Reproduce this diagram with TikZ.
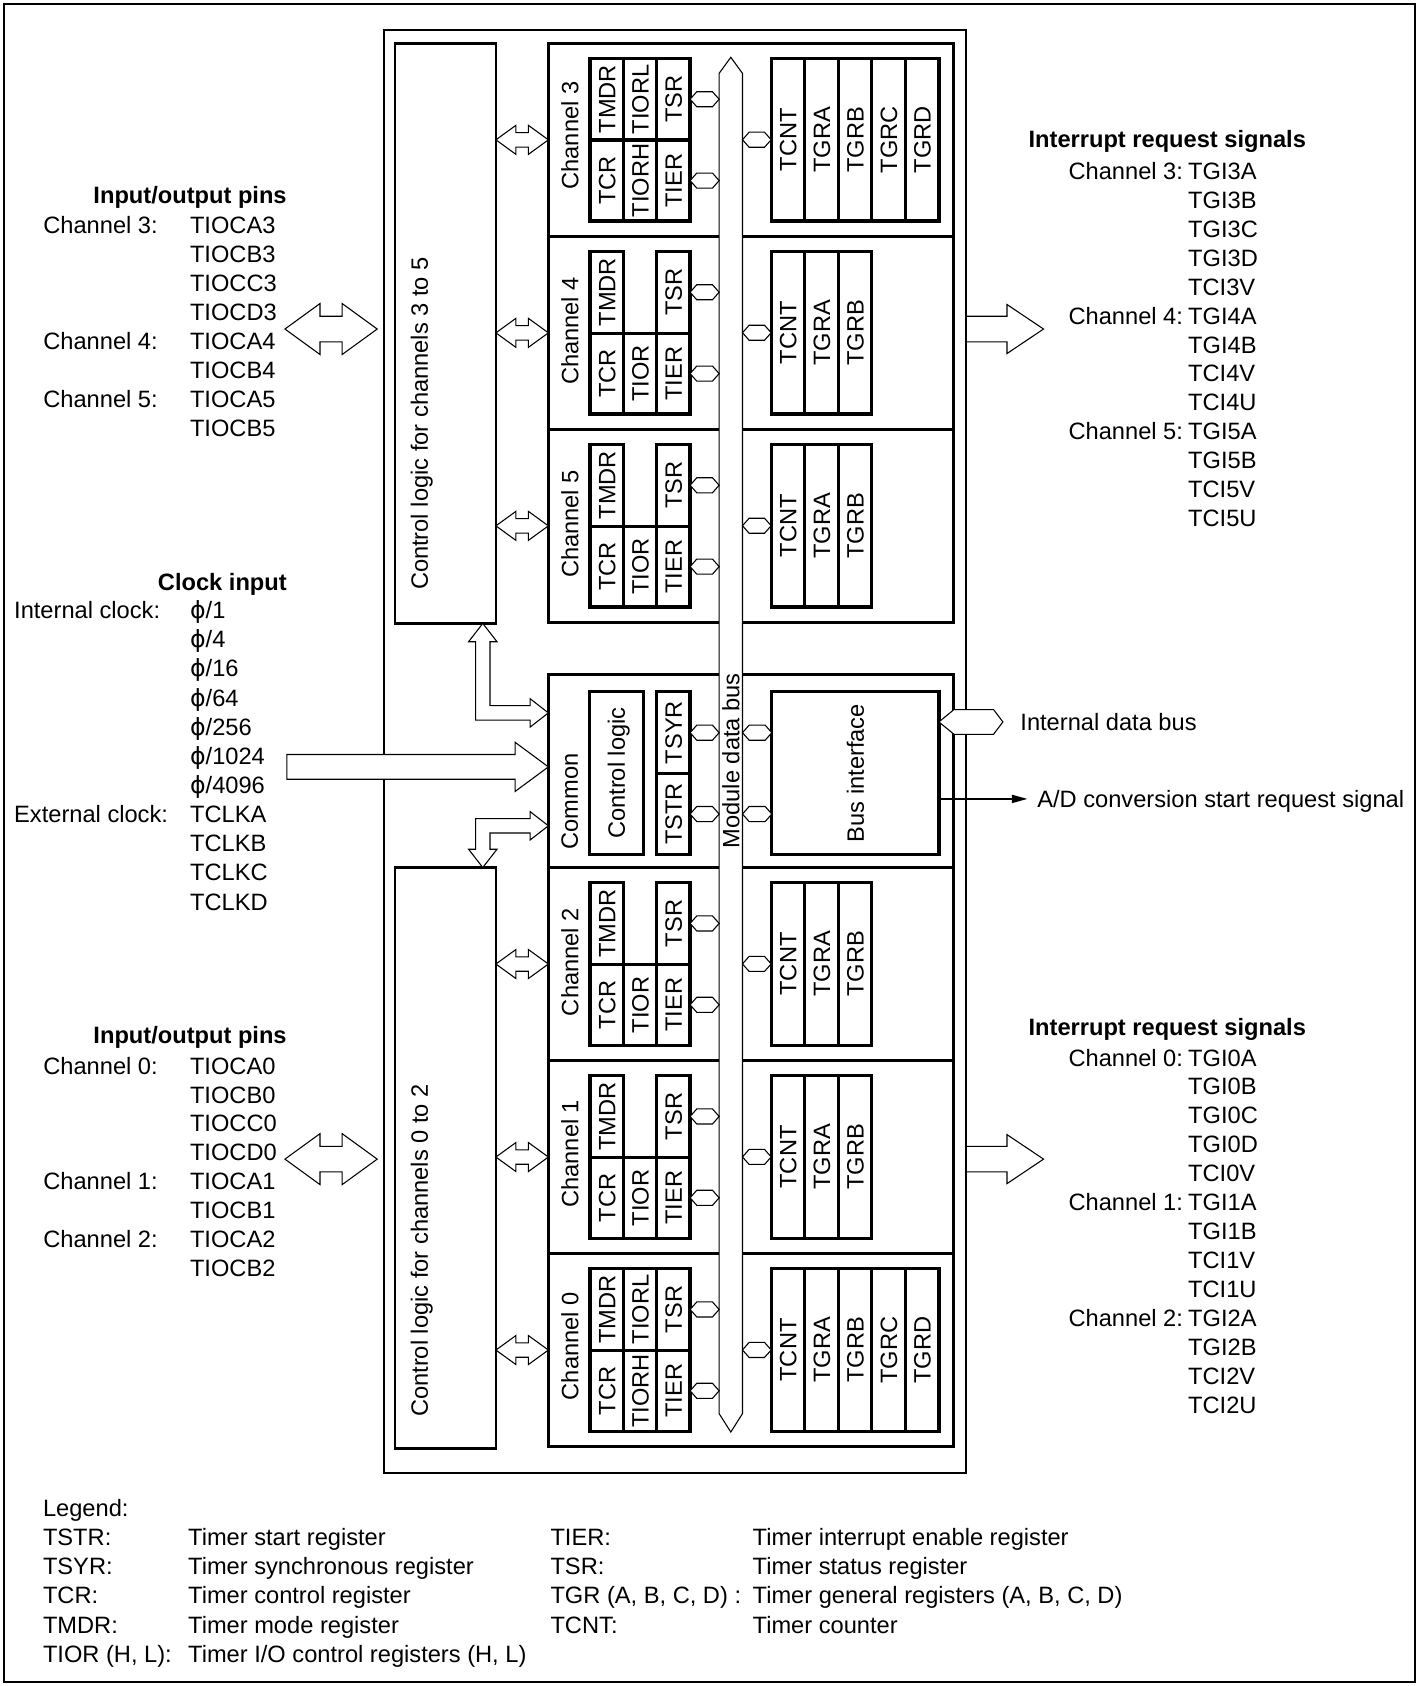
\documentclass[tikz,border=0pt]{standalone}
\usepackage{fontspec}
\setmainfont{Liberation Sans}
\newfontfamily\dvs{DejaVu Sans}
\usetikzlibrary{calc,arrows.meta}
\newcommand{\fy}{{\dvs\symbol{"03D5}}}
% generic box node: name, style, x1, y1, x2, y2
\newcommand{\bx}[6]{\node[#2,minimum width={((#5)-(#3))*0.5pt},minimum height={((#6)-(#4))*0.5pt}] (#1) at ({((#3)+(#5))/2},{((#4)+(#6))/2}) {};}
% register cell: name, x1, y1, x2, y2, text (rotated)
\newcommand{\cell}[6]{\node[cellb,minimum width={((#5)-(#3))*0.5pt},minimum height={((#4)-(#2))*0.5pt}] (#1) at ({((#2)+(#4))/2},{((#3)+(#5))/2}) {#6};}
\newcommand{\rightregs}[3]{\foreach \rn [count=\k from 0] in {#3}{\cell{#1-\rn}{717.2+31.2*\k}{#2+14}{748.4+31.2*\k}{#2+165.3}{\rn}}}
\newcommand{\regsfull}[2]{%
 \cell{#1-TMDR}{548.8}{#2+14}{579.8}{#2+90}{TMDR}%
 \cell{#1-TIORL}{579.8}{#2+14}{610.8}{#2+90}{TIORL}%
 \cell{#1-TSR}{610.8}{#2+14}{641.8}{#2+90}{TSR}%
 \cell{#1-TCR}{548.8}{#2+90}{579.8}{#2+165.3}{TCR}%
 \cell{#1-TIORH}{579.8}{#2+90}{610.8}{#2+165.3}{TIORH}%
 \cell{#1-TIER}{610.8}{#2+90}{641.8}{#2+165.3}{TIER}%
 \rightregs{#1}{#2}{TCNT,TGRA,TGRB,TGRC,TGRD}}
\newcommand{\regsthree}[2]{%
 \cell{#1-TMDR}{548.8}{#2+14}{579.8}{#2+90}{TMDR}%
 \cell{#1-TSR}{610.8}{#2+14}{641.8}{#2+90}{TSR}%
 \cell{#1-TCR}{548.8}{#2+90}{579.8}{#2+165.3}{TCR}%
 \cell{#1-TIOR}{579.8}{#2+90}{610.8}{#2+165.3}{TIOR}%
 \cell{#1-TIER}{610.8}{#2+90}{641.8}{#2+165.3}{TIER}%
 \rightregs{#1}{#2}{TCNT,TGRA,TGRB}}
% hollow double arrow: left point, right point, shaft half, head half, head length
\newcommand{\hdbl}[5]{\draw[thinl] let \p1=(#1), \p2=(#2) in
 (\x1,\y1) -- (\x1+#5,\y1+#4) -- (\x1+#5,\y1+#3) -- (\x2-#5,\y1+#3) -- (\x2-#5,\y1+#4) -- (\x2,\y1)
 -- (\x2-#5,\y1-#4) -- (\x2-#5,\y1-#3) -- (\x1+#5,\y1-#3) -- (\x1+#5,\y1-#4) -- cycle;}
% hollow single arrow: tail, tip, shaft half, head half, head length
\newcommand{\harr}[5]{\draw[thinl] let \p1=(#1), \p2=(#2) in
 (\x1,\y1+#3) -- (\x2-#5,\y1+#3) -- (\x2-#5,\y1+#4) -- (\x2,\y1) -- (\x2-#5,\y1-#4) -- (\x2-#5,\y1-#3) -- (\x1,\y1-#3) -- cycle;}
% hexagon connector: left, right, half height, left bevel, right bevel
\newcommand{\hexc}[5]{\draw[thinl] let \p1=(#1), \p2=(#2) in
 (\x1,\y1) -- (\x1+#4,\y1+#3) -- (\x2-#5,\y1+#3) -- (\x2,\y1) -- (\x2-#5,\y1-#3) -- (\x1+#4,\y1-#3) -- cycle;}
\newcommand{\conns}[1]{%
 \hexc{#1-TSR.south}{#1-TSR.south -| busL}{3.5pt}{3.1pt}{3.1pt}%
 \hexc{#1-TIER.south}{#1-TIER.south -| busL}{3.5pt}{3.1pt}{3.1pt}%
 \hexc{busR |- #1-TCNT.north}{#1-TCNT.north}{3.5pt}{3.1pt}{3.1pt}}
\begin{document}
\begin{tikzpicture}[x=0.5pt,y=-0.5pt,
 every node/.style={inner sep=0pt,outer sep=0pt,font=\fontsize{11}{13}\selectfont,text height=7.9pt,text depth=0pt},
 frm/.style={draw,line width=0.9pt},
 mainb/.style={draw,line width=1pt},
 boxb/.style={draw,line width=1.3pt},
 cellb/.style={draw,line width=1.5pt,rotate=90},
 thinl/.style={line width=0.5pt,fill=white},
 rot/.style={rotate=90},
 ttl/.style={font=\fontsize{11}{13}\selectfont\bfseries},
 lbl/.style={anchor=west},
 adl/.style={line width=1.2pt,-{Triangle[length=7.5pt,width=3.6pt]}},
]
\useasboundingbox (0,0) rectangle (1320,1568);
% frames and boxes
\bx{frame}{frm}{4}{4}{1316}{1564}
\bx{main}{mainb}{357}{27.9}{898.6}{1370}
\bx{ctl35}{boxb}{367.3}{40.3}{461.2}{579.8}
\bx{ctl02}{boxb}{367.3}{806.8}{461.2}{1347}
\node[rot] (ctl35t) at (390,394) {Control logic for channels 3 to 5};
\node[rot] (ctl02t) at (390,1163) {Control logic for channels 0 to 2};
\bx{ch3}{boxb}{510}{40.3}{887}{219.8}
\bx{ch4}{boxb}{510}{219.8}{887}{399.3}
\bx{ch5}{boxb}{510}{399.3}{887}{578.8}
\bx{com}{boxb}{510}{627.3}{887}{806.8}
\bx{ch2}{boxb}{510}{806.8}{887}{986.3}
\bx{ch1}{boxb}{510}{986.3}{887}{1165.8}
\bx{ch0}{boxb}{510}{1165.8}{887}{1345.3}
\node[rot] (ch3l) at (530,126) {Channel 3};
\node[rot] (ch4l) at (530,307.8) {Channel 4};
\node[rot] (ch5l) at (530,487.3) {Channel 5};
\node[rot] (coml) at (529.6,745.5) {Common};
\node[rot] (ch2l) at (530,894.8) {Channel 2};
\node[rot] (ch1l) at (530,1073) {Channel 1};
\node[rot] (ch0l) at (530,1252) {Channel 0};
% registers
\regsfull{ch3}{40.3}
\regsthree{ch4}{219.8}
\regsthree{ch5}{399.3}
\regsthree{ch2}{806.8}
\regsthree{ch1}{986.3}
\regsfull{ch0}{1165.8}
\cell{comctl}{548.2}{643.4}{598.4}{794.7}{Control logic}
\cell{TSYR}{610.8}{643.4}{641.8}{719.4}{TSYR}
\cell{TSTR}{610.8}{719.4}{641.8}{794.7}{TSTR}
\cell{bi}{717.8}{643.4}{873.2}{794.7}{Bus interface}
% module data bus
\coordinate (busL) at (668.8,0);
\coordinate (busR) at (690.5,0);
\draw[thinl] (668.8,68.2) -- (679.65,53.3) -- (690.5,68.2) -- (690.5,1314.7) -- (679.65,1331.8) -- (668.8,1314.7) -- cycle;
\node[rot] (mdb) at (679.65,707.5) {Module data bus};
% connectors to bus
\conns{ch3}\conns{ch4}\conns{ch5}\conns{ch2}\conns{ch1}\conns{ch0}
\hexc{TSYR.south}{TSYR.south -| busL}{3.5pt}{3.1pt}{3.1pt}
\hexc{TSTR.south}{TSTR.south -| busL}{3.5pt}{3.1pt}{3.1pt}
\hexc{busR |- TSYR.south}{bi.north |- TSYR.south}{3.5pt}{3.1pt}{3.1pt}
\hexc{busR |- TSTR.south}{bi.north |- TSTR.south}{3.5pt}{3.1pt}{3.1pt}
% internal data bus and A/D
\coordinate (ibus) at (932.7,671.4);
\hexc{bi.south |- ibus}{ibus}{5.75pt}{7pt}{4.35pt}
\coordinate (adE) at (956,743);
\draw[adl] (bi.south |- adE) -- (adE);
\node[lbl] (ibt) at (949,671.4) {Internal data bus};
\node[lbl] (adt) at (964.7,743) {A/D conversion start request signal};
% control <-> channel arrows
\foreach \c in {ch3,ch4,ch5}{\hdbl{ctl35.east |- \c.west}{\c.west}{3.35pt}{6.75pt}{9.3pt}}
\foreach \c in {ch2,ch1,ch0}{\hdbl{ctl02.east |- \c.west}{\c.west}{3.35pt}{6.75pt}{9.3pt}}
% L-shaped arrows to common
\coordinate (Lx) at (449,0);
\coordinate (Ly1) at (0,663);
\coordinate (Ly2) at (0,768);
\draw[thinl] let \p1=(Lx |- ctl35.south), \p2=(com.west |- Ly1) in
 (\x1,\y1) -- (\x1+6.6pt,\y1-8.5pt) -- (\x1+3.35pt,\y1-8.5pt) -- (\x1+3.35pt,\y2+3.35pt) -- (\x2-8.5pt,\y2+3.35pt) -- (\x2-8.5pt,\y2+6.6pt) -- (\x2,\y2) -- (\x2-8.5pt,\y2-6.6pt) -- (\x2-8.5pt,\y2-3.35pt) -- (\x1-3.35pt,\y2-3.35pt) -- (\x1-3.35pt,\y1-8.5pt) -- (\x1-6.6pt,\y1-8.5pt) -- cycle;
\draw[thinl] let \p1=(Lx |- ctl02.north), \p2=(com.west |- Ly2) in
 (\x2,\y2) -- (\x2-8.5pt,\y2+6.6pt) -- (\x2-8.5pt,\y2+3.35pt) -- (\x1-3.35pt,\y2+3.35pt) -- (\x1-3.35pt,\y1+8.5pt) -- (\x1-6.6pt,\y1+8.5pt) -- (\x1,\y1) -- (\x1+6.6pt,\y1+8.5pt) -- (\x1+3.35pt,\y1+8.5pt) -- (\x1+3.35pt,\y2-3.35pt) -- (\x2-8.5pt,\y2-3.35pt) -- (\x2-8.5pt,\y2-6.6pt) -- cycle;
% clock arrow
\coordinate (clk) at (266.8,713.2);
\harr{clk}{clk -| com.west}{5.75pt}{11.45pt}{15.5pt}
% pin arrows
\coordinate (pa1) at (265,306); \coordinate (pb1) at (350.8,306);
\coordinate (pa2) at (265,1078); \coordinate (pb2) at (350.8,1078);
\hdbl{pa1}{pb1}{5.95pt}{11.85pt}{16.3pt}
\hdbl{pa2}{pb2}{5.95pt}{11.85pt}{16.3pt}
% interrupt arrows
\coordinate (ir1) at (970.5,306); \coordinate (ir2) at (970.5,1078);
\harr{ir1 -| main.east}{ir1}{5.95pt}{11.4pt}{17pt}
\harr{ir2 -| main.east}{ir2}{5.95pt}{11.4pt}{17pt}
% left pin texts
\node[ttl] (iop1) at (176.75,181.4) {Input/output pins};
\foreach \t [count=\i] in {TIOCA3,TIOCB3,TIOCC3,TIOCD3,TIOCA4,TIOCB4,TIOCA5,TIOCB5}
 {\node[lbl] (pinT\i) at (176.7,{209.3+26.9*(\i-1)}) {\t};}
\node[lbl] (pchT3) at (40.3,209.3) {Channel 3:};
\node[lbl] (pchT4) at (40.3,{209.3+26.9*4}) {Channel 4:};
\node[lbl] (pchT5) at (40.3,{209.3+26.9*6}) {Channel 5:};
\node[ttl] (iop2) at (176.75,963) {Input/output pins};
\foreach \t [count=\i] in {TIOCA0,TIOCB0,TIOCC0,TIOCD0,TIOCA1,TIOCB1,TIOCA2,TIOCB2}
 {\node[lbl] (pinB\i) at (176.7,{991+26.9*(\i-1)}) {\t};}
\node[lbl] (pchB0) at (40.3,991) {Channel 0:};
\node[lbl] (pchB1) at (40.3,{991+26.9*4}) {Channel 1:};
\node[lbl] (pchB2) at (40.3,{991+26.9*6}) {Channel 2:};
% clock texts
\node[ttl] (clkt) at (206.8,541) {Clock input};
\node[lbl] (intc) at (13.2,567.4) {Internal clock:};
\node[lbl] (extc) at (13.2,{567.4+27.1*7}) {External clock:};
\foreach \t [count=\i] in {1,4,16,64,256,1024,4096}
 {\node[lbl] (phi\i) at (176.8,{567.4+27.1*(\i-1)}) {\fy/\t};}
\foreach \t [count=\i from 8] in {TCLKA,TCLKB,TCLKC,TCLKD}
 {\node[lbl] (tclk\i) at (176.8,{567.4+27.1*(\i-1)}) {\t};}
% interrupt texts
\node[ttl,anchor=west] (irqT) at (956.6,129.6) {Interrupt request signals};
\foreach \t [count=\i] in {TGI3A,TGI3B,TGI3C,TGI3D,TCI3V,TGI4A,TGI4B,TCI4V,TCI4U,TGI5A,TGI5B,TCI5V,TCI5U}
 {\node[lbl] (irT\i) at (1105,{159+26.9*(\i-1)}) {\t};}
\node[lbl] (ichT3) at (993.8,159) {Channel 3:};
\node[lbl] (ichT4) at (993.8,{159+26.9*5}) {Channel 4:};
\node[lbl] (ichT5) at (993.8,{159+26.9*9}) {Channel 5:};
\node[ttl,anchor=west] (irqB) at (956.6,955.5) {Interrupt request signals};
\foreach \t [count=\i] in {TGI0A,TGI0B,TGI0C,TGI0D,TCI0V,TGI1A,TGI1B,TCI1V,TCI1U,TGI2A,TGI2B,TCI2V,TCI2U}
 {\node[lbl] (irB\i) at (1105,{983.5+26.9*(\i-1)}) {\t};}
\node[lbl] (ichB0) at (993.8,983.5) {Channel 0:};
\node[lbl] (ichB1) at (993.8,{983.5+26.9*5}) {Channel 1:};
\node[lbl] (ichB2) at (993.8,{983.5+26.9*9}) {Channel 2:};
% legend
\node[lbl] (lg0) at (40,1402) {Legend:};
\node[lbl] (lg1a) at (40,1429.8) {TSTR:};
\node[lbl] (lg1b) at (175,1429.8) {Timer start register};
\node[lbl] (lg1c) at (512,1429.8) {TIER:};
\node[lbl] (lg1d) at (700,1429.8) {Timer interrupt enable register};
\node[lbl] (lg2a) at (40,1456.8) {TSYR:};
\node[lbl] (lg2b) at (175,1456.8) {Timer synchronous register};
\node[lbl] (lg2c) at (512,1456.8) {TSR:};
\node[lbl] (lg2d) at (700,1456.8) {Timer status register};
\node[lbl] (lg3a) at (40,1483.8) {TCR:};
\node[lbl] (lg3b) at (175,1483.8) {Timer control register};
\node[lbl] (lg3c) at (512,1483.8) {TGR (A, B, C, D) :};
\node[lbl] (lg3d) at (700,1483.8) {Timer general registers (A, B, C, D)};
\node[lbl] (lg4a) at (40,1510.8) {TMDR:};
\node[lbl] (lg4b) at (175,1510.8) {Timer mode register};
\node[lbl] (lg4c) at (512,1510.8) {TCNT:};
\node[lbl] (lg4d) at (700,1510.8) {Timer counter};
\node[lbl] (lg5a) at (40,1537.8) {TIOR (H, L):};
\node[lbl] (lg5b) at (175,1537.8) {Timer I/O control registers (H, L)};
\end{tikzpicture}
\end{document}
